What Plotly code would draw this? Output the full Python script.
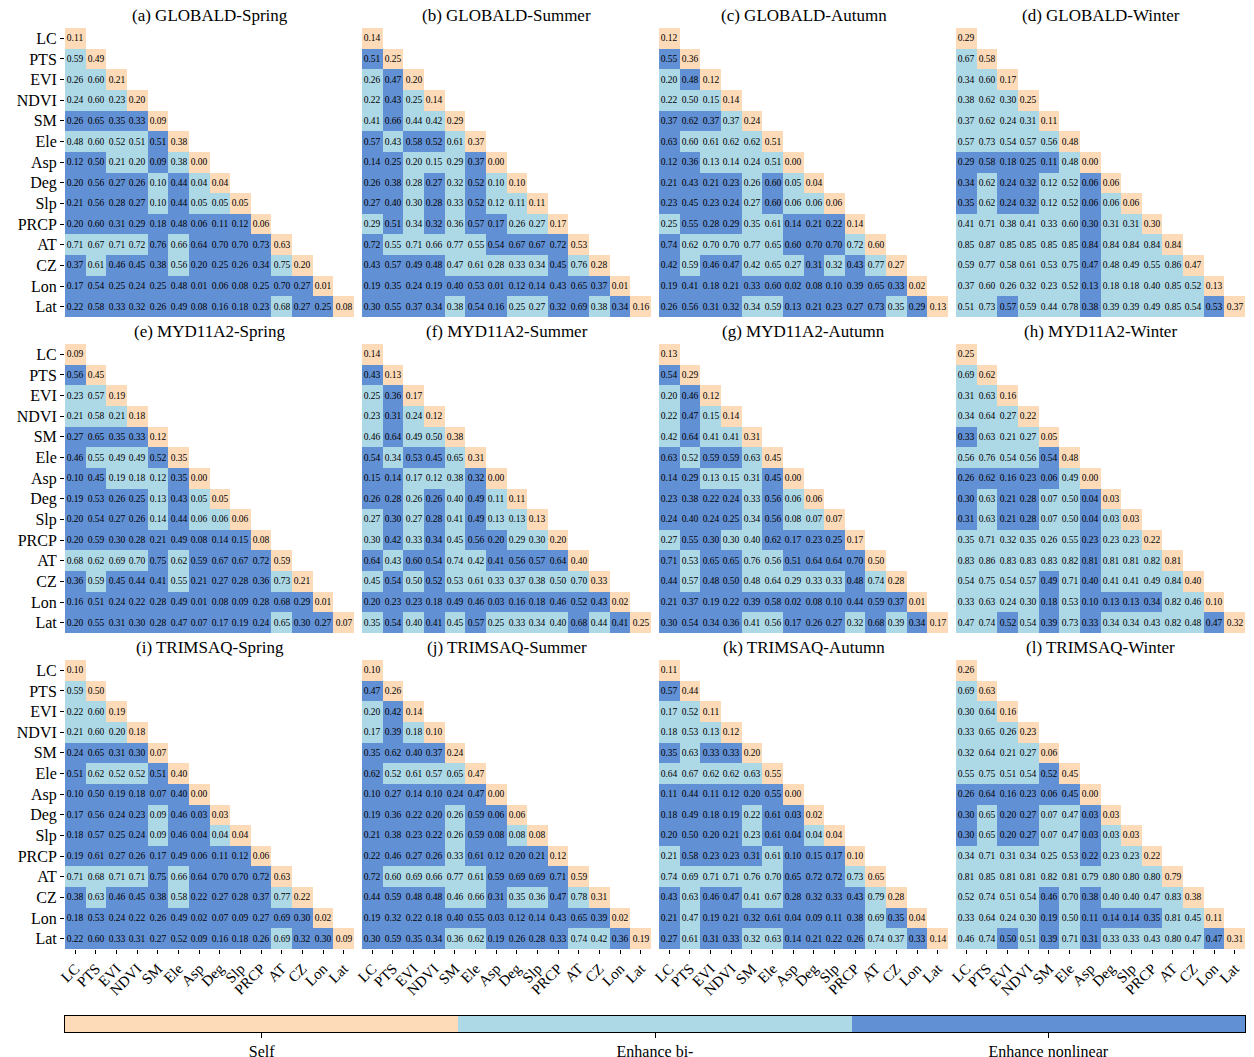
import plotly.graph_objects as go

FACTORS = ["LC", "PTS", "EVI", "NDVI", "SM", "Ele", "Asp", "Deg", "Slp", "PRCP", "AT", "CZ", "Lon", "Lat"]
PANEL_TITLES = [
    "(a) GLOBALD-Spring", "(b) GLOBALD-Summer", "(c) GLOBALD-Autumn", "(d) GLOBALD-Winter",
    "(e) MYD11A2-Spring", "(f) MYD11A2-Summer", "(g) MYD11A2-Autumn", "(h) MYD11A2-Winter",
    "(i) TRIMSAQ-Spring", "(j) TRIMSAQ-Summer", "(k) TRIMSAQ-Autumn", "(l) TRIMSAQ-Winter",
]
LEGEND_LABELS = ["Self", "Enhance bi-", "Enhance nonlinear"]
# interaction type per cell: s = self, b = enhance bi-, n = enhance nonlinear

GLOBALD_SPRING = [
    [0.11],
    [0.59, 0.49],
    [0.26, 0.60, 0.21],
    [0.24, 0.60, 0.23, 0.20],
    [0.26, 0.65, 0.35, 0.33, 0.09],
    [0.48, 0.60, 0.52, 0.51, 0.51, 0.38],
    [0.12, 0.50, 0.21, 0.20, 0.09, 0.38, 0.00],
    [0.20, 0.56, 0.27, 0.26, 0.10, 0.44, 0.04, 0.04],
    [0.21, 0.56, 0.28, 0.27, 0.10, 0.44, 0.05, 0.05, 0.05],
    [0.20, 0.60, 0.31, 0.29, 0.18, 0.48, 0.06, 0.11, 0.12, 0.06],
    [0.71, 0.67, 0.71, 0.72, 0.76, 0.66, 0.64, 0.70, 0.70, 0.73, 0.63],
    [0.37, 0.61, 0.46, 0.45, 0.38, 0.56, 0.20, 0.25, 0.26, 0.34, 0.75, 0.20],
    [0.17, 0.54, 0.25, 0.24, 0.25, 0.48, 0.01, 0.06, 0.08, 0.25, 0.70, 0.27, 0.01],
    [0.22, 0.58, 0.33, 0.32, 0.26, 0.49, 0.08, 0.16, 0.18, 0.23, 0.68, 0.27, 0.25, 0.08],
]
GLOBALD_SPRING_TYPES = ["s", "bs", "bbs", "bbbs", "nnnns", "bbbbns", "nnbbnbs", "nnnnbnbs", "nnnnbnbbs",
                        "nnnnnnnnns", "bbbbnbnnnns", "nbnnnbnnnnbs", "nnnnnnnnnnnns", "nnnnnnnnnnbnns"]

GLOBALD_SUMMER = [
    [0.14],
    [0.51, 0.25],
    [0.26, 0.47, 0.20],
    [0.22, 0.43, 0.25, 0.14],
    [0.41, 0.66, 0.44, 0.42, 0.29],
    [0.57, 0.43, 0.58, 0.52, 0.61, 0.37],
    [0.14, 0.25, 0.20, 0.15, 0.29, 0.37, 0.00],
    [0.26, 0.38, 0.28, 0.27, 0.32, 0.52, 0.10, 0.10],
    [0.27, 0.40, 0.30, 0.28, 0.33, 0.52, 0.12, 0.11, 0.11],
    [0.29, 0.51, 0.34, 0.32, 0.36, 0.57, 0.17, 0.26, 0.27, 0.17],
    [0.72, 0.55, 0.71, 0.66, 0.77, 0.55, 0.54, 0.67, 0.67, 0.72, 0.53],
    [0.43, 0.57, 0.49, 0.48, 0.47, 0.61, 0.28, 0.33, 0.34, 0.45, 0.76, 0.28],
    [0.19, 0.35, 0.24, 0.19, 0.40, 0.53, 0.01, 0.12, 0.14, 0.43, 0.65, 0.37, 0.01],
    [0.30, 0.55, 0.37, 0.34, 0.38, 0.54, 0.16, 0.25, 0.27, 0.32, 0.69, 0.38, 0.34, 0.16],
]
GLOBALD_SUMMER_TYPES = ["s", "ns", "bns", "bnbs", "bnbbs", "nbnnbs", "nnbbbns", "nnbnbnbs", "nnbnbnbbs",
                        "bnbnbnnbbs", "nbbbbbnnnns", "nnnnbbbbbnbs", "nnnnnnnnnnnns", "nnnnbnnbbnnbns"]

GLOBALD_AUTUMN = [
    [0.12],
    [0.55, 0.36],
    [0.20, 0.48, 0.12],
    [0.22, 0.50, 0.15, 0.14],
    [0.37, 0.62, 0.37, 0.37, 0.24],
    [0.63, 0.60, 0.61, 0.62, 0.62, 0.51],
    [0.12, 0.36, 0.13, 0.14, 0.24, 0.51, 0.00],
    [0.21, 0.43, 0.21, 0.23, 0.26, 0.60, 0.05, 0.04],
    [0.23, 0.45, 0.23, 0.24, 0.27, 0.60, 0.06, 0.06, 0.06],
    [0.25, 0.55, 0.28, 0.29, 0.35, 0.61, 0.14, 0.21, 0.22, 0.14],
    [0.74, 0.62, 0.70, 0.70, 0.77, 0.65, 0.60, 0.70, 0.70, 0.72, 0.60],
    [0.42, 0.59, 0.46, 0.47, 0.42, 0.65, 0.27, 0.31, 0.32, 0.43, 0.77, 0.27],
    [0.19, 0.41, 0.18, 0.21, 0.33, 0.60, 0.02, 0.08, 0.10, 0.39, 0.65, 0.33, 0.02],
    [0.26, 0.56, 0.31, 0.32, 0.34, 0.59, 0.13, 0.21, 0.23, 0.27, 0.73, 0.35, 0.29, 0.13],
]
GLOBALD_AUTUMN_TYPES = ["s", "ns", "bns", "bbbs", "nnnbs", "nbbbbs", "nnbbbbs", "nnnnbnbs", "nnnnbnbbs",
                        "bnnnbbnnns", "nbbbbbnnnbs", "nbnnbbbnbnbs", "nnnnnnnnnnnns", "nnnnbbnnnnnbns"]

GLOBALD_WINTER = [
    [0.29],
    [0.67, 0.58],
    [0.34, 0.60, 0.17],
    [0.38, 0.62, 0.30, 0.25],
    [0.37, 0.62, 0.24, 0.31, 0.11],
    [0.57, 0.73, 0.54, 0.57, 0.56, 0.48],
    [0.29, 0.58, 0.18, 0.25, 0.11, 0.48, 0.00],
    [0.34, 0.62, 0.24, 0.32, 0.12, 0.52, 0.06, 0.06],
    [0.35, 0.62, 0.24, 0.32, 0.12, 0.52, 0.06, 0.06, 0.06],
    [0.41, 0.71, 0.38, 0.41, 0.33, 0.60, 0.30, 0.31, 0.31, 0.30],
    [0.85, 0.87, 0.85, 0.85, 0.85, 0.85, 0.84, 0.84, 0.84, 0.84, 0.84],
    [0.59, 0.77, 0.58, 0.61, 0.53, 0.75, 0.47, 0.48, 0.49, 0.55, 0.86, 0.47],
    [0.37, 0.60, 0.26, 0.32, 0.23, 0.52, 0.13, 0.18, 0.18, 0.40, 0.85, 0.52, 0.13],
    [0.51, 0.73, 0.57, 0.59, 0.44, 0.78, 0.38, 0.39, 0.39, 0.49, 0.85, 0.54, 0.53, 0.37],
]
GLOBALD_WINTER_TYPES = ["s", "bs", "bbs", "bbbs", "bbbbs", "bbbbbs", "nnnnnbs", "nbnnbbns", "nbnnbbnbs",
                        "bbbbbbnbbs", "bbbbbbnbbbs", "bbbbbbnbbbbs", "bbbbbbnbbbbbs", "bbnbbbnbbbbbns"]

MYD11A2_SPRING = [
    [0.09],
    [0.56, 0.45],
    [0.23, 0.57, 0.19],
    [0.21, 0.58, 0.21, 0.18],
    [0.27, 0.65, 0.35, 0.33, 0.12],
    [0.46, 0.55, 0.49, 0.49, 0.52, 0.35],
    [0.10, 0.45, 0.19, 0.18, 0.12, 0.35, 0.00],
    [0.19, 0.53, 0.26, 0.25, 0.13, 0.43, 0.05, 0.05],
    [0.20, 0.54, 0.27, 0.26, 0.14, 0.44, 0.06, 0.06, 0.06],
    [0.20, 0.59, 0.30, 0.28, 0.21, 0.49, 0.08, 0.14, 0.15, 0.08],
    [0.68, 0.62, 0.69, 0.70, 0.75, 0.62, 0.59, 0.67, 0.67, 0.72, 0.59],
    [0.36, 0.59, 0.45, 0.44, 0.41, 0.55, 0.21, 0.27, 0.28, 0.36, 0.73, 0.21],
    [0.16, 0.51, 0.24, 0.22, 0.28, 0.49, 0.01, 0.08, 0.09, 0.28, 0.68, 0.29, 0.01],
    [0.20, 0.55, 0.31, 0.30, 0.28, 0.47, 0.07, 0.17, 0.19, 0.24, 0.65, 0.30, 0.27, 0.07],
]
MYD11A2_SPRING_TYPES = ["s", "ns", "bbs", "bbbs", "nnnns", "nbbbns", "nnbbbns", "nnnnbnbs", "nnnnbnbbs",
                        "nnnnnnnnns", "bbbbnbnnnns", "nbnnnbnnnnbs", "nnnnnnnnnnnns", "nnnnnnnnnnbnns"]

MYD11A2_SUMMER = [
    [0.14],
    [0.43, 0.13],
    [0.25, 0.36, 0.17],
    [0.23, 0.31, 0.24, 0.12],
    [0.46, 0.64, 0.49, 0.50, 0.38],
    [0.54, 0.34, 0.53, 0.45, 0.65, 0.31],
    [0.15, 0.14, 0.17, 0.12, 0.38, 0.32, 0.00],
    [0.26, 0.28, 0.26, 0.26, 0.40, 0.49, 0.11, 0.11],
    [0.27, 0.30, 0.27, 0.28, 0.41, 0.49, 0.13, 0.13, 0.13],
    [0.30, 0.42, 0.33, 0.34, 0.45, 0.56, 0.20, 0.29, 0.30, 0.20],
    [0.64, 0.43, 0.60, 0.54, 0.74, 0.42, 0.41, 0.56, 0.57, 0.64, 0.40],
    [0.45, 0.54, 0.50, 0.52, 0.53, 0.61, 0.33, 0.37, 0.38, 0.50, 0.70, 0.33],
    [0.20, 0.23, 0.23, 0.18, 0.49, 0.46, 0.03, 0.16, 0.18, 0.46, 0.52, 0.43, 0.02],
    [0.35, 0.54, 0.40, 0.41, 0.45, 0.57, 0.25, 0.33, 0.34, 0.40, 0.68, 0.44, 0.41, 0.25],
]
MYD11A2_SUMMER_TYPES = ["s", "ns", "bns", "bnbs", "bnbbs", "nbnnbs", "nnbbbns", "nnbnbnbs", "bnbnbnbbs",
                        "bnbnbnnbbs", "nbnnbbnnnns", "bnbnbbbbbbbs", "nnnnnnnnnnnns", "bnbnbnbbbbnbns"]

MYD11A2_AUTUMN = [
    [0.13],
    [0.54, 0.29],
    [0.20, 0.46, 0.12],
    [0.22, 0.47, 0.15, 0.14],
    [0.42, 0.64, 0.41, 0.41, 0.31],
    [0.63, 0.52, 0.59, 0.59, 0.63, 0.45],
    [0.14, 0.29, 0.13, 0.15, 0.31, 0.45, 0.00],
    [0.23, 0.38, 0.22, 0.24, 0.33, 0.56, 0.06, 0.06],
    [0.24, 0.40, 0.24, 0.25, 0.34, 0.56, 0.08, 0.07, 0.07],
    [0.27, 0.55, 0.30, 0.30, 0.40, 0.62, 0.17, 0.23, 0.25, 0.17],
    [0.71, 0.53, 0.65, 0.65, 0.76, 0.56, 0.51, 0.64, 0.64, 0.70, 0.50],
    [0.44, 0.57, 0.48, 0.50, 0.48, 0.64, 0.29, 0.33, 0.33, 0.48, 0.74, 0.28],
    [0.21, 0.37, 0.19, 0.22, 0.39, 0.58, 0.02, 0.08, 0.10, 0.44, 0.59, 0.37, 0.01],
    [0.30, 0.54, 0.34, 0.36, 0.41, 0.56, 0.17, 0.26, 0.27, 0.32, 0.68, 0.39, 0.34, 0.17],
]
MYD11A2_AUTUMN_TYPES = ["s", "ns", "bns", "bnbs", "bnbbs", "nbnnbs", "nnbbbns", "nnnnbnbs", "nnnnbnbbs",
                        "bnnbbnnnns", "nbnnbbnnnns", "nbnnbbbbbnbs", "nnnnnnnnnnnns", "nnnnbbnnnbnbns"]

MYD11A2_WINTER = [
    [0.25],
    [0.69, 0.62],
    [0.31, 0.63, 0.16],
    [0.34, 0.64, 0.27, 0.22],
    [0.33, 0.63, 0.21, 0.27, 0.05],
    [0.56, 0.76, 0.54, 0.56, 0.54, 0.48],
    [0.26, 0.62, 0.16, 0.23, 0.06, 0.49, 0.00],
    [0.30, 0.63, 0.21, 0.28, 0.07, 0.50, 0.04, 0.03],
    [0.31, 0.63, 0.21, 0.28, 0.07, 0.50, 0.04, 0.03, 0.03],
    [0.35, 0.71, 0.32, 0.35, 0.26, 0.55, 0.23, 0.23, 0.23, 0.22],
    [0.83, 0.86, 0.83, 0.83, 0.83, 0.82, 0.81, 0.81, 0.81, 0.82, 0.81],
    [0.54, 0.75, 0.54, 0.57, 0.49, 0.71, 0.40, 0.41, 0.41, 0.49, 0.84, 0.40],
    [0.33, 0.63, 0.24, 0.30, 0.18, 0.53, 0.10, 0.13, 0.13, 0.34, 0.82, 0.46, 0.10],
    [0.47, 0.74, 0.52, 0.54, 0.39, 0.73, 0.33, 0.34, 0.34, 0.43, 0.82, 0.48, 0.47, 0.32],
]
MYD11A2_WINTER_TYPES = ["s", "bs", "bbs", "bbbs", "nbbbs", "bbbbns", "nnnnnbs", "nbnnbbns", "nbnnbbnbs",
                        "bbbbbbnbbs", "bbbbbbnbbbs", "bbbbnbnbbbbs", "bbbbnbnnnnbbs", "bbnbnbnbbbbbns"]

TRIMSAQ_SPRING = [
    [0.10],
    [0.59, 0.50],
    [0.22, 0.60, 0.19],
    [0.21, 0.60, 0.20, 0.18],
    [0.24, 0.65, 0.31, 0.30, 0.07],
    [0.51, 0.62, 0.52, 0.52, 0.51, 0.40],
    [0.10, 0.50, 0.19, 0.18, 0.07, 0.40, 0.00],
    [0.17, 0.56, 0.24, 0.23, 0.09, 0.46, 0.03, 0.03],
    [0.18, 0.57, 0.25, 0.24, 0.09, 0.46, 0.04, 0.04, 0.04],
    [0.19, 0.61, 0.27, 0.26, 0.17, 0.49, 0.06, 0.11, 0.12, 0.06],
    [0.71, 0.68, 0.71, 0.71, 0.75, 0.66, 0.64, 0.70, 0.70, 0.72, 0.63],
    [0.38, 0.63, 0.46, 0.45, 0.38, 0.58, 0.22, 0.27, 0.28, 0.37, 0.77, 0.22],
    [0.18, 0.53, 0.24, 0.22, 0.26, 0.49, 0.02, 0.07, 0.09, 0.27, 0.69, 0.30, 0.02],
    [0.22, 0.60, 0.33, 0.31, 0.27, 0.52, 0.09, 0.16, 0.18, 0.26, 0.69, 0.32, 0.30, 0.09],
]
TRIMSAQ_SPRING_TYPES = ["s", "bs", "bbs", "bbbs", "nnnns", "nbbbns", "nnnnnns", "nnnnbnns", "nnnnbnnbs",
                        "nnnnnnnnns", "bbbbnbnnnns", "nbnnnbnnnnbs", "nnnnnnnnnnnns", "nnnnnnnnnnbnns"]

TRIMSAQ_SUMMER = [
    [0.10],
    [0.47, 0.26],
    [0.20, 0.42, 0.14],
    [0.17, 0.39, 0.18, 0.10],
    [0.35, 0.62, 0.40, 0.37, 0.24],
    [0.62, 0.52, 0.61, 0.57, 0.65, 0.47],
    [0.10, 0.27, 0.14, 0.10, 0.24, 0.47, 0.00],
    [0.19, 0.36, 0.22, 0.20, 0.26, 0.59, 0.06, 0.06],
    [0.21, 0.38, 0.23, 0.22, 0.26, 0.59, 0.08, 0.08, 0.08],
    [0.22, 0.46, 0.27, 0.26, 0.33, 0.61, 0.12, 0.20, 0.21, 0.12],
    [0.72, 0.60, 0.69, 0.66, 0.77, 0.61, 0.59, 0.69, 0.69, 0.71, 0.59],
    [0.44, 0.59, 0.48, 0.48, 0.46, 0.66, 0.31, 0.35, 0.36, 0.47, 0.78, 0.31],
    [0.19, 0.32, 0.22, 0.18, 0.40, 0.55, 0.03, 0.12, 0.14, 0.43, 0.65, 0.39, 0.02],
    [0.30, 0.59, 0.35, 0.34, 0.36, 0.62, 0.19, 0.26, 0.28, 0.33, 0.74, 0.42, 0.36, 0.19],
]
TRIMSAQ_SUMMER_TYPES = ["s", "ns", "bns", "bnbs", "nnnns", "nbbbbs", "nnnnnns", "nnnnbnns", "nnnnbnnbs",
                        "nnnnbnnnns", "nbbbbbnnnns", "nnnnbbnbbnbs", "nnnnnnnnnnnns", "nnnnbbnnnnbbns"]

TRIMSAQ_AUTUMN = [
    [0.11],
    [0.57, 0.44],
    [0.17, 0.52, 0.11],
    [0.18, 0.53, 0.13, 0.12],
    [0.35, 0.63, 0.33, 0.33, 0.20],
    [0.64, 0.67, 0.62, 0.62, 0.63, 0.55],
    [0.11, 0.44, 0.11, 0.12, 0.20, 0.55, 0.00],
    [0.18, 0.49, 0.18, 0.19, 0.22, 0.61, 0.03, 0.02],
    [0.20, 0.50, 0.20, 0.21, 0.23, 0.61, 0.04, 0.04, 0.04],
    [0.21, 0.58, 0.23, 0.23, 0.31, 0.61, 0.10, 0.15, 0.17, 0.10],
    [0.74, 0.69, 0.71, 0.71, 0.76, 0.70, 0.65, 0.72, 0.72, 0.73, 0.65],
    [0.43, 0.63, 0.46, 0.47, 0.41, 0.67, 0.28, 0.32, 0.33, 0.43, 0.79, 0.28],
    [0.21, 0.47, 0.19, 0.21, 0.32, 0.61, 0.04, 0.09, 0.11, 0.38, 0.69, 0.35, 0.04],
    [0.27, 0.61, 0.31, 0.33, 0.32, 0.63, 0.14, 0.21, 0.22, 0.26, 0.74, 0.37, 0.33, 0.14],
]
TRIMSAQ_AUTUMN_TYPES = ["s", "ns", "bbs", "bbbs", "nbnns", "bbbbbs", "nnnnnns", "nnnnbnns", "nnnnbnnbs",
                        "bnnnnbnnns", "bbbbbbnnnbs", "nbnnbbnnnnbs", "nbnnnnnnnnbns", "nbnnbbnnnnbbns"]

TRIMSAQ_WINTER = [
    [0.26],
    [0.69, 0.63],
    [0.30, 0.64, 0.16],
    [0.33, 0.65, 0.26, 0.23],
    [0.32, 0.64, 0.21, 0.27, 0.06],
    [0.55, 0.75, 0.51, 0.54, 0.52, 0.45],
    [0.26, 0.64, 0.16, 0.23, 0.06, 0.45, 0.00],
    [0.30, 0.65, 0.20, 0.27, 0.07, 0.47, 0.03, 0.03],
    [0.30, 0.65, 0.20, 0.27, 0.07, 0.47, 0.03, 0.03, 0.03],
    [0.34, 0.71, 0.31, 0.34, 0.25, 0.53, 0.22, 0.23, 0.23, 0.22],
    [0.81, 0.85, 0.81, 0.81, 0.82, 0.81, 0.79, 0.80, 0.80, 0.80, 0.79],
    [0.52, 0.74, 0.51, 0.54, 0.46, 0.70, 0.38, 0.40, 0.40, 0.47, 0.83, 0.38],
    [0.33, 0.64, 0.24, 0.30, 0.19, 0.50, 0.11, 0.14, 0.14, 0.35, 0.81, 0.45, 0.11],
    [0.46, 0.74, 0.50, 0.51, 0.39, 0.71, 0.31, 0.33, 0.33, 0.43, 0.80, 0.47, 0.47, 0.31],
]
TRIMSAQ_WINTER_TYPES = ["s", "bs", "bbs", "bbbs", "bbbbs", "bbbbns", "nnnnnns", "nbnnbbns", "nbnnbbnbs",
                        "bbbbbbnbbs", "bbbbbbbbbbs", "bbbbnbnbbbbs", "bbbbnbnnnnbbs", "bbnbnbnbbbbbns"]

PANEL_VALUES = [GLOBALD_SPRING, GLOBALD_SUMMER, GLOBALD_AUTUMN, GLOBALD_WINTER,
                MYD11A2_SPRING, MYD11A2_SUMMER, MYD11A2_AUTUMN, MYD11A2_WINTER,
                TRIMSAQ_SPRING, TRIMSAQ_SUMMER, TRIMSAQ_AUTUMN, TRIMSAQ_WINTER]
PANEL_TYPES = [GLOBALD_SPRING_TYPES, GLOBALD_SUMMER_TYPES, GLOBALD_AUTUMN_TYPES, GLOBALD_WINTER_TYPES,
               MYD11A2_SPRING_TYPES, MYD11A2_SUMMER_TYPES, MYD11A2_AUTUMN_TYPES, MYD11A2_WINTER_TYPES,
               TRIMSAQ_SPRING_TYPES, TRIMSAQ_SUMMER_TYPES, TRIMSAQ_AUTUMN_TYPES, TRIMSAQ_WINTER_TYPES]

# ---------------- styling ----------------
OFF = 8                       # default page margin of the html body
W, H = 1254 - 2 * OFF, 1057 - OFF
FONT = "Liberation Serif, Times New Roman, serif"
C_SELF, C_BI, C_NL = "#FDDBB8", "#ADD8E6", "#6290D4"
CODE = {"s": 0, "b": 1, "n": 2}
COLORSCALE = [[0, C_SELF], [0.3333, C_SELF], [0.3333, C_BI], [0.6667, C_BI], [0.6667, C_NL], [1, C_NL]]

# page-pixel layout (converted to figure fractions below)
PX_LEFT, PX_COLSTEP, PX_W = 65, 297, 289
PX_TOP, PX_ROWSTEP, PX_H = 28, 316, 289


def fx(px):
    return min(1.0, max(0.0, (px - OFF) / W))


def fy(px):
    return min(1.0, max(0.0, 1 - (px - OFF) / H))


fig = go.Figure()
annotations = []
layout = {}
n = len(FACTORS)
for idx in range(12):
    r, c = divmod(idx, 4)
    vals, types = PANEL_VALUES[idx], PANEL_TYPES[idx]
    z = [[None] * n for _ in range(n)]
    txt = [[""] * n for _ in range(n)]
    for i, row in enumerate(vals):
        for j, v in enumerate(row):
            z[i][j] = CODE[types[i][j]]
            txt[i][j] = f"{v:.2f}"
    k = idx + 1
    xa = "x" if k == 1 else f"x{k}"
    ya = "y" if k == 1 else f"y{k}"
    fig.add_trace(go.Heatmap(
        z=z, x=FACTORS, y=FACTORS, text=txt, texttemplate="%{text}",
        textfont=dict(family=FONT, size=9.5, color="black"),
        colorscale=COLORSCALE, zmin=0, zmax=2, showscale=False,
        xaxis=xa, yaxis=ya, hoverinfo="skip",
    ))
    x0 = PX_LEFT + PX_COLSTEP * c
    x1 = x0 + PX_W
    yt = PX_TOP + PX_ROWSTEP * r
    yb = yt + PX_H
    xkey = "xaxis" if k == 1 else f"xaxis{k}"
    ykey = "yaxis" if k == 1 else f"yaxis{k}"
    bottom = (r == 2)
    left = (c == 0)
    layout[xkey] = dict(
        domain=[fx(x0), fx(x1)], anchor=ya, range=[-0.5, n - 0.5], automargin=False,
        showgrid=False, zeroline=False, showline=False,
        showticklabels=bottom, ticks="outside" if bottom else "", ticklen=4, tickcolor="black",
        tickangle=-45, tickfont=dict(family=FONT, size=15, color="black"),
    )
    layout[ykey] = dict(
        domain=[fy(yb), fy(yt)], anchor=xa, range=[n - 0.5, -0.5], automargin=False,
        showgrid=False, zeroline=False, showline=False,
        showticklabels=left, ticks="outside" if left else "", ticklen=4, tickcolor="black",
        tickfont=dict(family=FONT, size=16, color="black"),
    )
    annotations.append(dict(
        text=PANEL_TITLES[idx], xref="paper", yref="paper",
        x=fx((x0 + x1) / 2), y=fy(yt - 1), xanchor="center", yanchor="bottom",
        showarrow=False, font=dict(family=FONT, size=17, color="black"),
    ))

# legend bar
fig.add_trace(go.Heatmap(
    z=[[0, 1, 2]], x=[0, 1, 2], y=[0], colorscale=COLORSCALE, zmin=0, zmax=2,
    showscale=False, xaxis="x13", yaxis="y13", hoverinfo="skip",
))
layout["xaxis13"] = dict(
    domain=[fx(65), fx(1245)], anchor="y13", range=[-0.5, 2.5], automargin=False,
    tickvals=[0, 1, 2], ticktext=LEGEND_LABELS, ticks="outside", ticklen=5, tickcolor="black",
    showline=True, mirror=True, linecolor="black", linewidth=1,
    showgrid=False, zeroline=False, tickfont=dict(family=FONT, size=16, color="black"),
)
layout["yaxis13"] = dict(
    domain=[fy(1032), fy(1016)], anchor="x13", range=[-0.5, 0.5], automargin=False,
    showticklabels=False, ticks="", showline=True, mirror=True, linecolor="black", linewidth=1,
    showgrid=False, zeroline=False,
)

fig.update_layout(
    width=W, height=H, margin=dict(l=0, r=0, t=0, b=0, pad=0, autoexpand=False),
    paper_bgcolor="white", plot_bgcolor="white",
    annotations=annotations, font=dict(family=FONT, color="black"),
    **layout,
)
fig.write_html("out.html")
